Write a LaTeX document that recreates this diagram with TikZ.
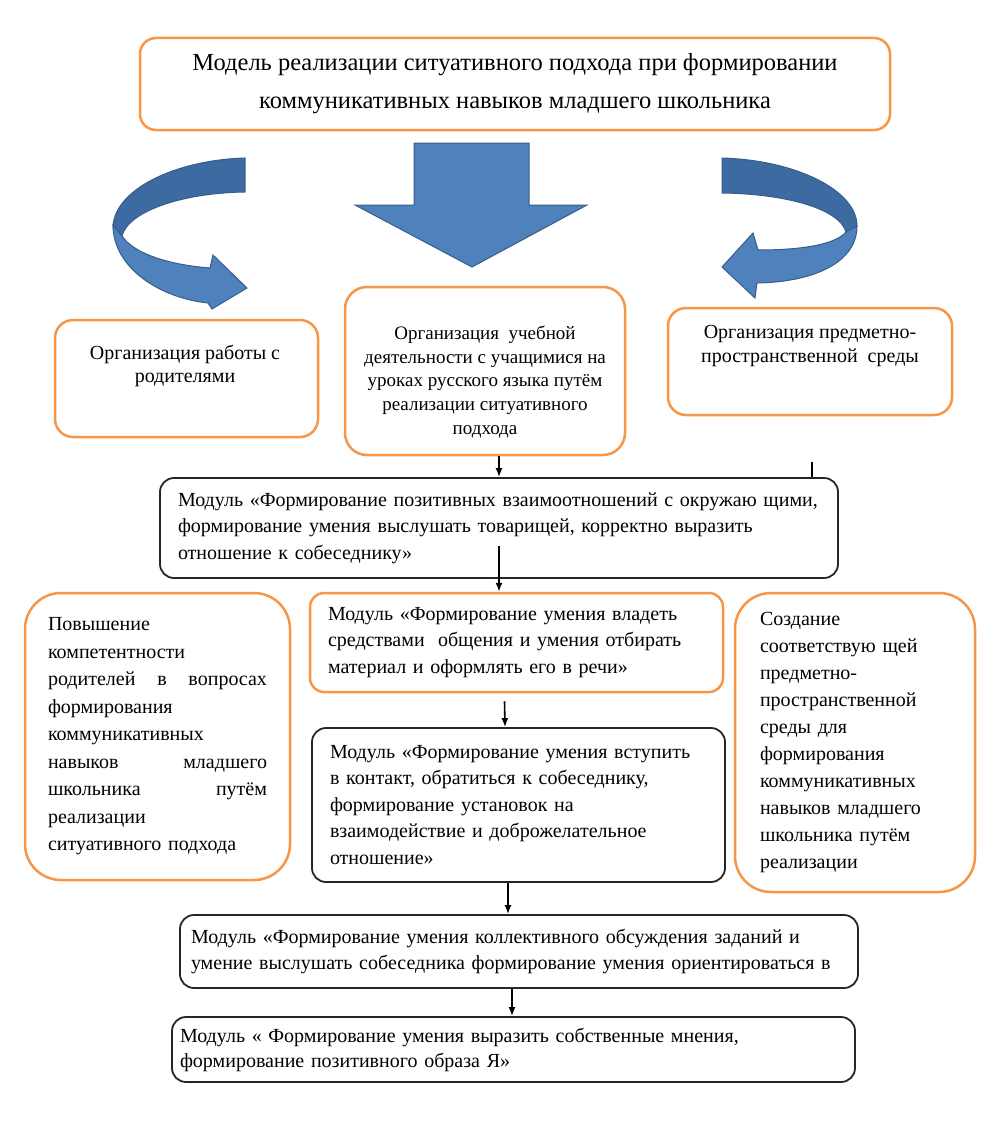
\documentclass[tikz,border=0pt]{standalone}
\usepackage{fontspec}
\setmainfont{Liberation Serif}
\usetikzlibrary{arrows.meta}

\definecolor{orangeline}{HTML}{F79646}
\definecolor{arrowfill}{HTML}{4F81BD}
\definecolor{arrowback}{HTML}{3D6AA0}
\definecolor{arrowline}{HTML}{385D8A}

\tikzset{
  obox/.style={draw=orangeline, line width=2.5pt, rounded corners=18pt, inner sep=0pt},
  kbox/.style={draw=black!85, line width=1.8pt, rounded corners=14pt, inner sep=0pt},
  conn/.style={line width=1.6pt, -{Latex[length=9pt,width=7pt]}},
  modtext/.style={font=\fontsize{20}{26.5}\selectfont, align=left},
  toptext/.style={font=\fontsize{20}{23.5}\selectfont, align=center, inner sep=0pt},
  bluearrow/.style={fill=arrowfill, draw=arrowline, line width=1pt},
}

\begin{document}
\begin{tikzpicture}[x=1pt,y=-1pt]
\useasboundingbox (0,0) rectangle (993,1124);

% model title
\node[obox, rounded corners=16pt, minimum width=750pt, minimum height=92pt,
      font=\fontsize{24.5}{38}\selectfont, align=center] (model) at (515,84)
  {Модель реализации ситуативного подхода при формировании\\коммуникативных навыков младшего школьника};

% block arrows
\draw[bluearrow] (414,143) -- (529,143) -- (529,205) -- (587,205) -- (472,267)
  -- (355,205) -- (414,205) -- cycle;
\draw[bluearrow, fill=arrowback] (245,158) .. controls (175,160) and (113,190) .. (113,228)
  -- (122,236) .. controls (128,212) and (180,193) .. (245,192) -- cycle;
\draw[bluearrow] (113,225) .. controls (113,268) and (160,298) .. (208,303)
  -- (212,309) -- (247,288) -- (213,255) -- (210,268)
  .. controls (172,265) and (135,255) .. (122,236) -- cycle;
\draw[bluearrow, fill=arrowback] (722,158) .. controls (795,160) and (857,190) .. (857,226)
  -- (846,232) .. controls (840,210) and (790,194) .. (722,193) -- cycle;
\draw[bluearrow] (857,226) .. controls (857,262) and (815,282) .. (757,283)
  -- (755,298) -- (722,267) -- (753,233) -- (758,250)
  .. controls (800,250) and (835,245) .. (846,232) -- cycle;

% three directions
\node[obox, minimum width=263pt, minimum height=117pt] (parents) at (186.5,378.5) {};
\node[toptext] (parentsT) at (185,366) {Организация работы с\\родителями};
\node[obox, rounded corners=22pt, minimum width=280pt, minimum height=168pt] (lessons) at (485,371) {};
\node[toptext, font=\fontsize{19}{23.75}\selectfont] (lessonsT) at (485,382)
  {Организация~ учебной\\деятельности с учащимися на\\уроках русского языка путём\\реализации ситуативного\\подхода};
\node[obox, minimum width=284pt, minimum height=107pt] (space) at (810,361.5) {};
\node[toptext] (spaceT) at (810,346) {Организация предметно-\\пространственной~ среды};

% modules
\node[kbox, minimum width=678pt, minimum height=100pt, text width=642pt, modtext] (m1) at (499,528)
  {Модуль «Формирование позитивных взаимоотношений с окружаю щими,\\формирование умения выслушать товарищей, корректно выразить\\отношение к собеседнику»};
\node[obox, rounded corners=14pt, minimum width=413pt, minimum height=99pt, text width=377pt, modtext] (m2) at (516.5,642.5)
  {Модуль «Формирование умения владеть\\средствами~ общения и умения отбирать\\материал и оформлять его в речи»};
\node[kbox, minimum width=413pt, minimum height=154pt, text width=377pt, modtext] (m3) at (518.5,805)
  {Модуль «Формирование умения вступить\\в контакт, обратиться к собеседнику,\\формирование установок на\\взаимодействие и доброжелательное\\отношение»};
\node[kbox, minimum width=678pt, minimum height=73pt, text width=656pt, modtext] (m4) at (519,951.5)
  {Модуль «Формирование умения коллективного обсуждения заданий и\\умение выслушать собеседника формирование умения ориентироваться в};
\node[kbox, minimum width=683pt, minimum height=65pt, text width=667pt, modtext, font=\fontsize{20}{25}\selectfont] (m5) at (513.5,1049.5)
  {Модуль « Формирование умения выразить собственные мнения,\\формирование позитивного образа Я»};

% side boxes
\node[obox, rounded corners=36pt, minimum width=265pt, minimum height=287pt, text width=219pt, modtext,
      font=\fontsize{20}{27.5}\selectfont] (competence) at (157.5,736.5)
  {Повышение\\компетентности\\родителей\hfill в\hfill вопросах\\формирования\\коммуникативных\\навыков\hfill младшего\\школьника\hfill путём\\реализации\\ситуативного подхода};
\node[obox, rounded corners=36pt, minimum width=240pt, minimum height=299pt, text width=190pt, modtext,
      font=\fontsize{20}{27}\selectfont] (environment) at (855,742.5)
  {Создание\\соответствую щей\\предметно-\\пространственной\\среды для\\формирования\\коммуникативных\\навыков младшего\\школьника путём\\реализации};

% connectors
\draw[conn] (m1.north |- lessons.south) -- (m1.north);
\draw[conn] ([yshift=33pt]m1.south) -- (m1.south |- m2.north);
\draw[conn] ([xshift=-12pt,yshift=-8pt]m2.south) -- ([xshift=-13.5pt]m3.north);
\draw[conn] ([xshift=-10.5pt]m3.south) -- ([xshift=-11pt]m4.north);
\draw[conn] ([xshift=-7pt]m4.south) -- ([xshift=-1.5pt]m5.north);
\coordinate (tick) at (812,462);
\draw[line width=1.6pt] (tick) -- (tick |- m1.north);
\end{tikzpicture}
\end{document}
